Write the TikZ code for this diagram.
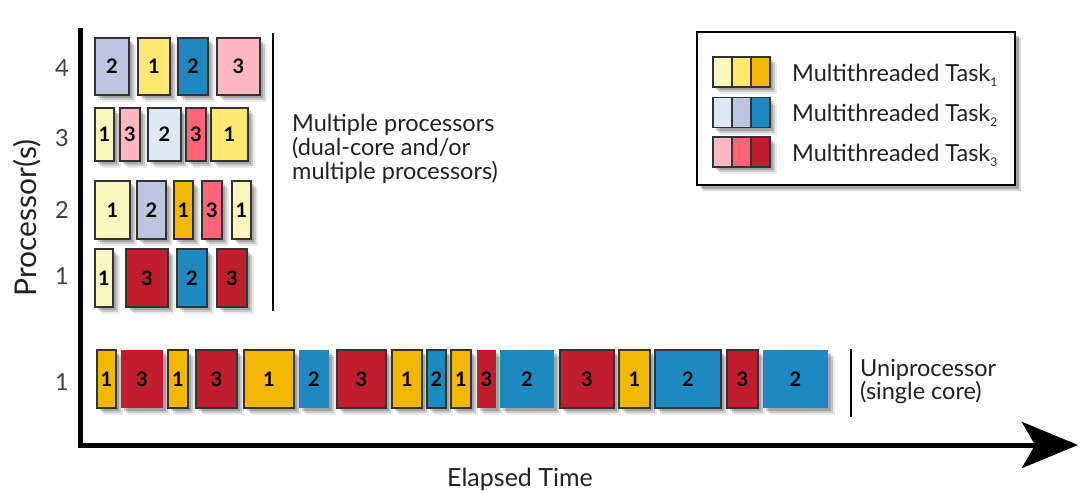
\documentclass[tikz,border=0pt]{standalone}
\usepackage{fontspec}
\setmainfont{Lato}
\usetikzlibrary{shadows,arrows.meta}
\definecolor{Yone}{HTML}{FAF7BE}
\definecolor{Ytwo}{HTML}{FFE872}
\definecolor{Ythree}{HTML}{F2B705}
\definecolor{Bone}{HTML}{DDEAF3}
\definecolor{Btwo}{HTML}{BCC7DF}
\definecolor{Bthree}{HTML}{1E88C0}
\definecolor{Rone}{HTML}{FFB8C2}
\definecolor{Rtwo}{HTML}{FF6478}
\definecolor{Rthree}{HTML}{BE1E2D}
\definecolor{ink}{HTML}{222222}
\newcommand\taskbox[8]{%
  \pgfmathsetmacro\tbw{#3-#2}\pgfmathsetmacro\tbh{#5-#4}%
  \node[task,fill=#6,#8,minimum width=\tbw pt,minimum height=\tbh pt] (#1) at ({(#2+#3)/2},{(#4+#5)/2}) {#7};}
\begin{document}
\begin{tikzpicture}[x=1pt,y=-1pt,
  shadowed/.style={drop shadow={shadow xshift=7pt,shadow yshift=-7pt,opacity=.08,fill=black},
                   drop shadow={shadow xshift=5pt,shadow yshift=-5pt,opacity=.14,fill=black},
                   drop shadow={shadow xshift=3pt,shadow yshift=-3pt,opacity=.18,fill=black}},
  task/.style={shadowed,draw=black!80,line width=1.1pt,inner sep=0pt,outer sep=0pt,
               font=\bfseries\fontsize{20}{20}\selectfont,text=black},
  nob/.style={draw=none},
  cell/.style={draw=black!80,line width=1.1pt,inner sep=0pt,minimum width=19pt,minimum height=30pt},
  lbl/.style={font=\fontsize{23.5}{24}\selectfont,text=ink,inner sep=0pt,align=left},
  tick/.style={font=\fontsize{23.5}{24}\selectfont,text=black!75,inner sep=0pt},
  axis/.style={line width=5pt,line join=miter,draw=black},
  bracket/.style={line width=2pt,draw=black}]
\useasboundingbox[fill=white] (0,0) rectangle (1084,493);

% axes
\coordinate (ytop) at (80,28);
\coordinate (xend) at (1078,445);
\draw[axis,-{Stealth[length=56pt,width=46pt,inset=13pt]}] (ytop) |- (xend);

% axis labels
\node[lbl,font=\fontsize{30}{30}\selectfont,rotate=90] (ylab) at (27,218) {Processor(s)};
\node[lbl,font=\fontsize{25}{25}\selectfont] (xlab) at (520,479) {Elapsed Time};
\node[tick] (t4) at (62,68) {4};
\node[tick] (t3) at (62,138) {3};
\node[tick] (t2) at (62,210) {2};
\node[tick] (t1) at (62,276) {1};
\node[tick] (tu) at (62,382) {1};

% multiprocessor rows
\taskbox{r4a}{95}{129}{38}{95}{Btwo}{2}{}
\taskbox{r4b}{138}{170}{38}{95}{Ytwo}{1}{}
\taskbox{r4c}{178}{208}{38}{95}{Bthree}{2}{}
\taskbox{r4d}{217}{260}{38}{95}{Rone}{3}{}

\taskbox{r3a}{95}{114}{108}{161}{Yone}{1}{}
\taskbox{r3b}{120}{140}{108}{161}{Rone}{3}{}
\taskbox{r3c}{148}{181}{108}{161}{Bone}{2}{}
\taskbox{r3d}{186}{206}{108}{161}{Rtwo}{3}{}
\taskbox{r3e}{211}{248}{108}{161}{Ytwo}{1}{}

\taskbox{r2a}{95}{130}{181}{239}{Yone}{1}{}
\taskbox{r2b}{137}{166}{181}{239}{Btwo}{2}{}
\taskbox{r2c}{174}{193}{181}{239}{Ythree}{1}{}
\taskbox{r2d}{202}{222}{181}{239}{Rtwo}{3}{}
\taskbox{r2e}{232}{251}{181}{239}{Yone}{1}{}

\taskbox{r1a}{95}{113}{249}{307}{Yone}{1}{}
\taskbox{r1b}{126}{168}{249}{307}{Rthree}{3}{}
\taskbox{r1c}{177}{207}{249}{307}{Bthree}{2}{}
\taskbox{r1d}{217}{247}{249}{307}{Rthree}{3}{}

% uniprocessor row
\taskbox{u1}{97}{116}{350}{408}{Ythree}{1}{}
\taskbox{u2}{121}{163}{350}{408}{Rthree}{3}{nob}
\taskbox{u3}{168}{188}{350}{408}{Ythree}{1}{}
\taskbox{u4}{196}{237}{350}{408}{Rthree}{3}{}
\taskbox{u5}{244}{294}{350}{408}{Ythree}{1}{}
\taskbox{u6}{299}{329}{350}{408}{Bthree}{2}{nob}
\taskbox{u7}{337}{386}{350}{408}{Rthree}{3}{}
\taskbox{u8}{392}{422}{350}{408}{Ythree}{1}{}
\taskbox{u9}{427}{446}{350}{408}{Bthree}{2}{}
\taskbox{u10}{451}{471}{350}{408}{Ythree}{1}{}
\taskbox{u11}{477}{496}{350}{408}{Rthree}{3}{nob}
\taskbox{u12}{500}{554}{350}{408}{Bthree}{2}{nob}
\taskbox{u13}{560}{614}{350}{408}{Rthree}{3}{}
\taskbox{u14}{619}{650}{350}{408}{Ythree}{1}{}
\taskbox{u15}{655}{721}{350}{408}{Bthree}{2}{}
\taskbox{u16}{727}{758}{350}{408}{Rthree}{3}{}
\taskbox{u17}{763}{828}{350}{408}{Bthree}{2}{nob}

% brackets and their labels
\coordinate (mtop) at (273,33);
\coordinate (mbot) at (273,311);
\draw[bracket] (mtop) -- (mbot);
\node[lbl,anchor=north west] (mlab) at (292,114) {Multiple processors\\(dual-core and/or\\multiple processors)};
\coordinate (utop) at (851,349);
\coordinate (ubot) at (851,417);
\draw[bracket,line width=1.5pt] (utop) -- (ubot);
\node[lbl,anchor=north west,font=\fontsize{23.5}{23}\selectfont] (ulab) at (860,359) {Uniprocessor\\(single core)};

% legend
\node[draw=black,line width=2pt,fill=white,minimum width=318pt,minimum height=153pt,inner sep=0pt,
      drop shadow={shadow xshift=6pt,shadow yshift=-6pt,opacity=.15,fill=black},
      drop shadow={shadow xshift=4pt,shadow yshift=-4pt,opacity=.25,fill=black}] (legend) at (856,108.5) {};
\foreach \r/\ya/\ca/\cb/\cc/\s in {1/72/Yone/Ytwo/Ythree/1, 2/112.5/Bone/Btwo/Bthree/2, 3/152/Rone/Rtwo/Rthree/3}{
  \node[shadowed,fill=white,minimum width=57pt,minimum height=30pt,inner sep=0pt] (sw\r) at (741.5,\ya) {};
  \node[cell,fill=\ca] (sw\r a) at (722.5,\ya) {};
  \node[cell,fill=\cb] (sw\r b) at (741.5,\ya) {};
  \node[cell,fill=\cc] (sw\r c) at (760.5,\ya) {};
  \node[lbl,anchor=base west] (lt\r) at (792,\ya+9) {Multithreaded Task\raisebox{-0.45ex}{\fontsize{12}{12}\selectfont\s}};
}
\end{tikzpicture}
\end{document}
